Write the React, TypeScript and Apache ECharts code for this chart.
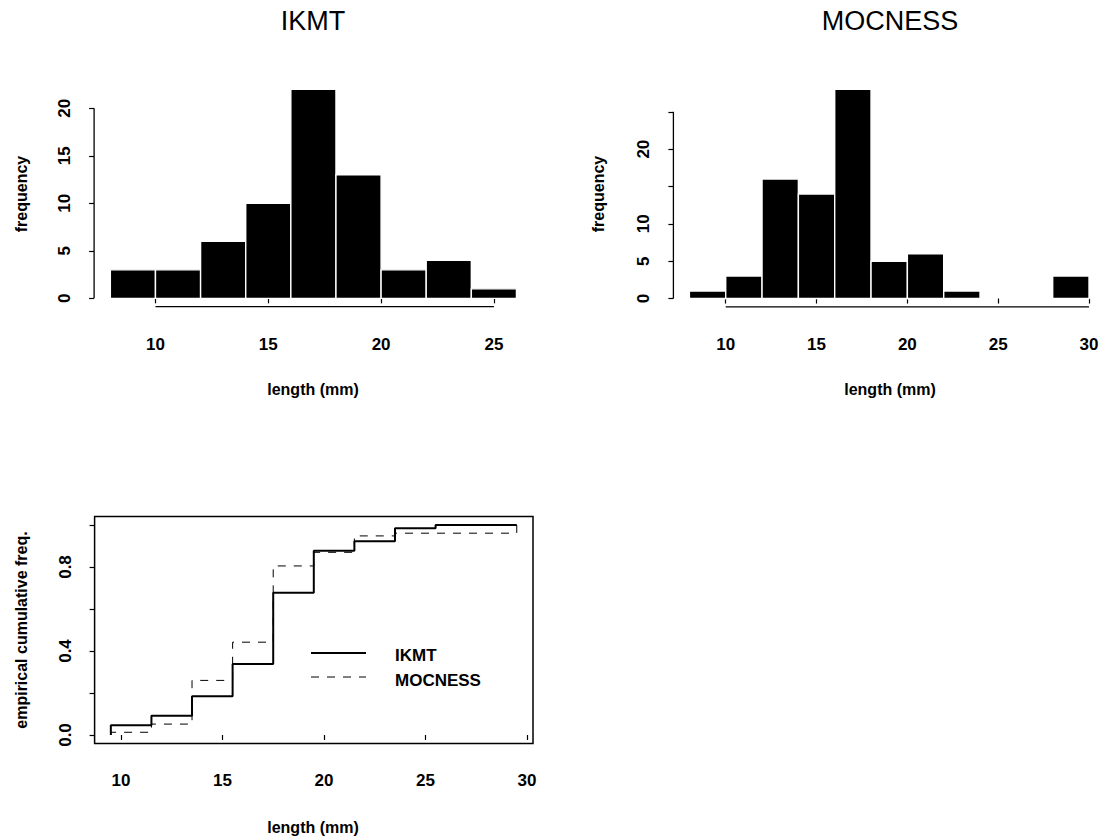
import React, { useEffect, useRef } from "react";
import * as echarts from "echarts";

// ---- data ----
const ikmtBinEdges = [8, 10, 12, 14, 16, 18, 20, 22, 24, 26];
const ikmtCounts = [3, 3, 6, 10, 22, 13, 3, 4, 1];
const mocBinEdges = [8, 10, 12, 14, 16, 18, 20, 22, 24, 26, 28, 30];
const mocCounts = [1, 3, 16, 14, 28, 5, 6, 1, 0, 0, 3];

const ikmtEcdfX = [9.5, 9.5, 11.5, 13.5, 15.5, 17.5, 19.5, 21.5, 23.5, 25.5, 29.5];
const ikmtEcdfY = [0, 0.046, 0.092, 0.185, 0.338, 0.677, 0.877, 0.923, 0.985, 1.0, 1.0];
const mocEcdfX = [9.5, 9.5, 11.5, 13.5, 15.5, 17.5, 19.5, 21.5, 23.5, 29.5];
const mocEcdfY = [0, 0.013, 0.052, 0.26, 0.442, 0.805, 0.87, 0.948, 0.961, 1.0];

// axis ranges (R style 4% extension) and ticks
const ikmtXRange = [7.28, 26.72];
const ikmtYRange = [-0.88, 22.88];
const ikmtXTicks = [10, 15, 20, 25];
const ikmtYTicks = [0, 5, 10, 15, 20];
const ikmtYLabels = [0, 5, 10, 15, 20];

const mocXRange = [7.12, 30.88];
const mocYRange = [-1.12, 29.12];
const mocXTicks = [10, 15, 20, 25, 30];
const mocYTicks = [0, 5, 10, 15, 20, 25];
const mocYLabels = [0, 5, 10, 20];

const ecdfXRange = [8.7, 30.3];
const ecdfYRange = [-0.04, 1.04];
const ecdfXTicks = [10, 15, 20, 25, 30];
const ecdfYTicks = [0, 0.2, 0.4, 0.6, 0.8, 1.0];
const ecdfYLabels = [0, 0.4, 0.8];

const FONT = "'Liberation Sans', Arial, Helvetica, sans-serif";

function makeXAxis(gridIndex: number, range: number[], ticks: number[], fmt?: (v: number) => string) {
  return {
    type: "value",
    gridIndex,
    min: range[0],
    max: range[1],
    axisLine: { show: false },
    splitLine: { show: false },
    axisTick: { show: true, customValues: ticks, length: 5, lineStyle: { color: "#000", width: 1.2 } },
    axisLabel: {
      show: true,
      customValues: ticks,
      margin: 29,
      color: "#000",
      fontFamily: FONT,
      fontSize: 17,
      fontWeight: "bold",
      formatter: fmt || ((v: number) => String(v)),
    },
  };
}

function makeYAxis(gridIndex: number, range: number[], ticks: number[], labels: number[], fmt?: (v: number) => string) {
  return {
    type: "value",
    gridIndex,
    min: range[0],
    max: range[1],
    axisLine: { show: false },
    splitLine: { show: false },
    axisTick: { show: true, customValues: ticks, length: 5, lineStyle: { color: "#000", width: 1.2 } },
    axisLabel: {
      show: true,
      customValues: labels,
      rotate: 90,
      margin: 21,
      color: "#000",
      fontFamily: FONT,
      fontSize: 17,
      fontWeight: "bold",
      formatter: fmt || ((v: number) => String(v)),
    },
  };
}

function histSeries(idx: number, edges: number[], counts: number[]) {
  return {
    type: "custom",
    xAxisIndex: idx,
    yAxisIndex: idx,
    silent: true,
    data: counts.map((c, i) => [edges[i], edges[i + 1], c]),
    encode: { x: [0, 1], y: 2 },
    renderItem: (params: any, api: any) => {
      const c = api.value(2);
      if (!c) return { type: "group", children: [] };
      const p0 = api.coord([api.value(0), c]);
      const p1 = api.coord([api.value(1), 0]);
      return {
        type: "rect",
        shape: { x: p0[0], y: p0[1], width: p1[0] - p0[0], height: p1[1] - p0[1] },
        style: { fill: "#000", stroke: "#fff", lineWidth: 1.4 },
      };
    },
  };
}

function axisLineSeries(idx: number, pts: number[][]) {
  return {
    type: "line",
    xAxisIndex: idx,
    yAxisIndex: idx,
    data: pts,
    symbol: "none",
    silent: true,
    clip: false,
    lineStyle: { color: "#000", width: 1.3 },
    z: 5,
  };
}

export default function App() {
  const ref = useRef<HTMLDivElement>(null);
  useEffect(() => {
    if (!ref.current) return;
    const chart = echarts.init(ref.current, undefined, { renderer: "svg" });
    const textStyle = (size: number, weight: string) => ({
      fontSize: size,
      fontWeight: weight,
      fontFamily: FONT,
      fill: "#000",
      textAlign: "center",
      textVerticalAlign: "middle",
    });
    chart.setOption({
      animation: false,
      backgroundColor: "#fff",
      grid: [
        { left: 94.1, top: 80.9, width: 438.6, height: 225.8 },
        { left: 673.4, top: 81, width: 434.3, height: 225.9 },
        { left: 94.6, top: 516.6, width: 438.4, height: 226.8, show: true, borderColor: "#000", borderWidth: 1.5, backgroundColor: "transparent" },
      ],
      xAxis: [
        makeXAxis(0, ikmtXRange, ikmtXTicks),
        makeXAxis(1, mocXRange, mocXTicks),
        makeXAxis(2, ecdfXRange, ecdfXTicks),
      ],
      yAxis: [
        makeYAxis(0, ikmtYRange, ikmtYTicks, ikmtYLabels),
        makeYAxis(1, mocYRange, mocYTicks, mocYLabels),
        makeYAxis(2, ecdfYRange, ecdfYTicks, ecdfYLabels, (v: number) => v.toFixed(1)),
      ],
      series: [
        histSeries(0, ikmtBinEdges, ikmtCounts),
        histSeries(1, mocBinEdges, mocCounts),
        axisLineSeries(0, [[ikmtXTicks[0], ikmtYRange[0]], [ikmtXTicks[ikmtXTicks.length - 1], ikmtYRange[0]]]),
        axisLineSeries(0, [[ikmtXRange[0], ikmtYTicks[0]], [ikmtXRange[0], ikmtYTicks[ikmtYTicks.length - 1]]]),
        axisLineSeries(1, [[mocXTicks[0], mocYRange[0]], [mocXTicks[mocXTicks.length - 1], mocYRange[0]]]),
        axisLineSeries(1, [[mocXRange[0], mocYTicks[0]], [mocXRange[0], mocYTicks[mocYTicks.length - 1]]]),
        {
          name: "IKMT",
          type: "line",
          xAxisIndex: 2,
          yAxisIndex: 2,
          step: "end",
          symbol: "none",
          silent: true,
          data: ikmtEcdfX.map((x, i) => [x, ikmtEcdfY[i]]),
          lineStyle: { color: "#000", width: 2 },
          z: 4,
        },
        {
          name: "MOCNESS",
          type: "line",
          xAxisIndex: 2,
          yAxisIndex: 2,
          step: "end",
          symbol: "none",
          silent: true,
          data: mocEcdfX.map((x, i) => [x, mocEcdfY[i]]),
          lineStyle: { color: "#000", width: 1, type: [8, 8] },
          z: 3,
        },
      ],
      graphic: [
        { type: "text", x: 313, y: 21, style: { text: "IKMT", ...textStyle(27, "normal") } },
        { type: "text", x: 890, y: 21, style: { text: "MOCNESS", ...textStyle(27, "normal") } },
        { type: "text", x: 21, y: 194, rotation: Math.PI / 2, style: { text: "frequency", ...textStyle(16, "bold") } },
        { type: "text", x: 598, y: 194, rotation: Math.PI / 2, style: { text: "frequency", ...textStyle(16, "bold") } },
        { type: "text", x: 313, y: 389, style: { text: "length (mm)", ...textStyle(16, "bold") } },
        { type: "text", x: 890, y: 389, style: { text: "length (mm)", ...textStyle(16, "bold") } },
        { type: "text", x: 313, y: 827, style: { text: "length (mm)", ...textStyle(16, "bold") } },
        { type: "text", x: 21, y: 630, rotation: Math.PI / 2, style: { text: "empirical cumulative freq.", ...textStyle(16, "bold") } },
        { type: "line", shape: { x1: 311, y1: 653, x2: 366, y2: 653 }, style: { stroke: "#000", lineWidth: 2 } },
        { type: "line", shape: { x1: 311, y1: 677, x2: 366, y2: 677 }, style: { stroke: "#000", lineWidth: 1, lineDash: [8, 8] } },
        { type: "text", x: 395, y: 655, style: { text: "IKMT", ...textStyle(17, "bold"), textAlign: "left" } },
        { type: "text", x: 395, y: 680, style: { text: "MOCNESS", ...textStyle(17, "bold"), textAlign: "left" } },
      ],
    });
    return () => chart.dispose();
  }, []);
  return <div ref={ref} style={{ position: "absolute", left: 0, top: 0, width: 1105, height: 840 }} />;
}
